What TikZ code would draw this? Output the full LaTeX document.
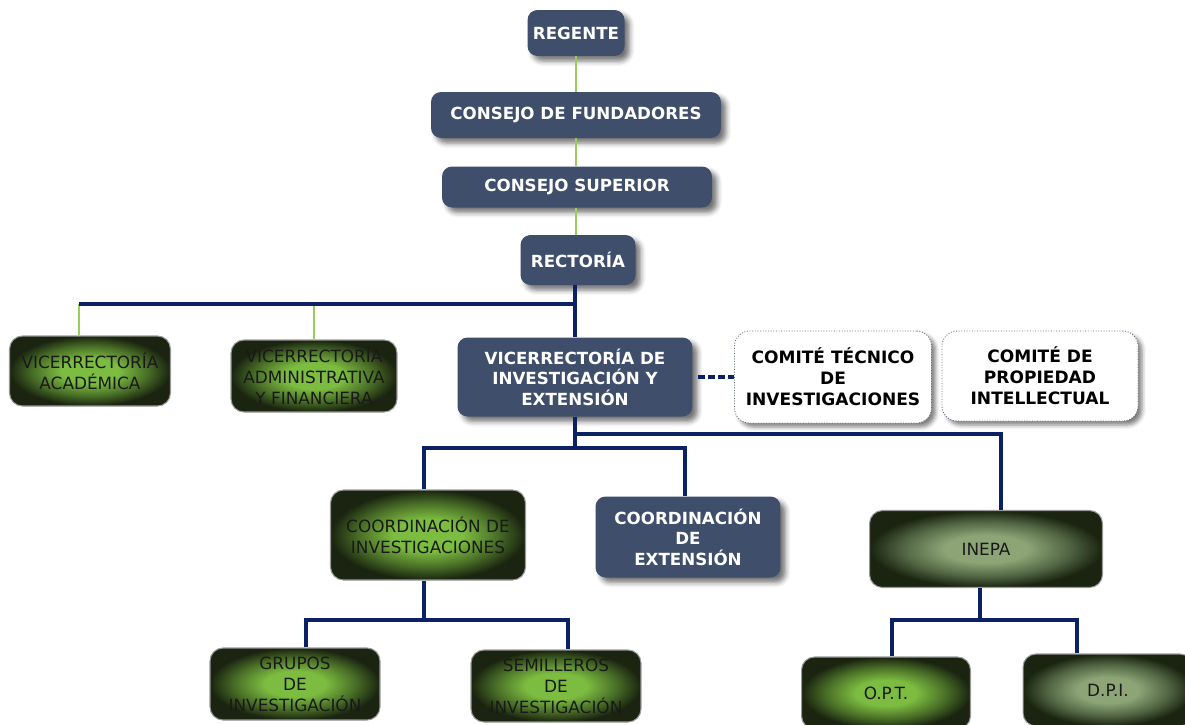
\documentclass[tikz,border=0pt]{standalone}
\usepackage{fontspec}
\setmainfont{DejaVu Sans}
\usetikzlibrary{shadows.blur}

\definecolor{boxblue}{RGB}{63,79,107}
\definecolor{linknavy}{RGB}{10,33,99}
\definecolor{linkgreen}{RGB}{154,205,90}
\definecolor{glowgreen}{RGB}{124,188,64}
\definecolor{midgreen}{RGB}{72,108,38}
\definecolor{glowgray}{RGB}{140,164,118}
\definecolor{midgray}{RGB}{80,100,66}
\definecolor{darkgreen}{RGB}{26,36,16}
\definecolor{dotgray}{RGB}{95,105,125}
\pgfdeclareradialshading{greenglow}{\pgfpoint{0bp}{0bp}}{color(0bp)=(glowgreen); color(9bp)=(glowgreen); color(18bp)=(midgreen); color(25bp)=(darkgreen); color(50bp)=(darkgreen)}
\pgfdeclareradialshading{grayglow}{\pgfpoint{0bp}{0bp}}{color(0bp)=(glowgray); color(9bp)=(glowgray); color(18bp)=(midgray); color(25bp)=(darkgreen); color(50bp)=(darkgreen)}

\tikzset{
  bluebox/.style={fill=boxblue, text=white, rounded corners=0.2cm, align=center,
    font=\fontsize{9.5}{11.7}\selectfont\bfseries, inner sep=2pt,
    blur shadow={shadow xshift=0.1cm, shadow yshift=-0.1cm, shadow blur radius=0.1cm, shadow opacity=55}},
  greenbox/.style={shade, shading=greenglow, draw=gray!80, line width=0.6pt, rounded corners=0.26cm,
    text=black!90, align=center, font=\fontsize{9.6}{12}\selectfont, inner sep=2pt},
  graybox/.style={greenbox, shading=grayglow},
  comitebox/.style={fill=white, draw=dotgray, densely dotted, line width=0.5pt, rounded corners=0.3cm,
    align=center, font=\fontsize{9.7}{12}\selectfont\bfseries, inner sep=2pt,
    blur shadow={shadow xshift=0.08cm, shadow yshift=-0.08cm, shadow blur radius=0.08cm, shadow opacity=50}},
  greenlink/.style={draw=linkgreen, line width=0.04cm},
  navylink/.style={draw=linknavy, line width=0.09cm, line join=miter},
}

\begin{document}
\begin{tikzpicture}[x=0.02cm, y=-0.02cm]
	\useasboundingbox (0,0) rectangle (1185,724);
	\clip (0,0) rectangle (1185,724);

	\node[bluebox, minimum width=1.94cm, minimum height=0.92cm] (regente) at (576,33) {REGENTE};
	\node[bluebox, minimum width=5.8cm, minimum height=0.92cm] (fundadores) at (576,115) {CONSEJO DE FUNDADORES};
	\node[bluebox, minimum width=5.4cm, minimum height=0.82cm] (superior) at (577,187) {CONSEJO SUPERIOR};
	\node[bluebox, minimum width=2.3cm, minimum height=1cm] (rectoria) at (578,260) {RECTORÍA};

	\node[greenbox, minimum width=3.22cm, minimum height=1.4cm] (viceacad) at (90,371) {VICERRECTORÍA\\ACADÉMICA};
	\node[greenbox, minimum width=3.32cm, minimum height=1.44cm] (viceadmin) at (314,376) {VICERRECTORÍA\\ADMINISTRATIVA\\Y FINANCIERA};
	\node[bluebox, minimum width=4.7cm, minimum height=1.58cm] (viceinv) at (575,377) {VICERRECTORÍA DE\\INVESTIGACIÓN Y\\EXTENSIÓN};
	\node[comitebox, minimum width=3.94cm, minimum height=1.84cm] (comitec) at (833,377) {COMITÉ TÉCNICO\\DE\\INVESTIGACIONES};
	\node[comitebox, minimum width=3.92cm, minimum height=1.8cm] (comiprop) at (1040,376) {COMITÉ DE\\PROPIEDAD\\INTELLECTUAL};

	\node[greenbox, minimum width=3.9cm, minimum height=1.8cm] (coordinv) at (428,535) {COORDINACIÓN DE\\INVESTIGACIONES};
	\node[bluebox, minimum width=3.7cm, minimum height=1.62cm] (coordext) at (688,537) {COORDINACIÓN\\DE\\EXTENSIÓN};
	\node[graybox, minimum width=4.66cm, minimum height=1.54cm] (inepa) at (986,549) {INEPA};

	\node[greenbox, minimum width=3.4cm, minimum height=1.44cm] (grupos) at (295,684) {GRUPOS\\DE\\INVESTIGACIÓN};
	\node[greenbox, minimum width=3.4cm, minimum height=1.44cm] (semilleros) at (556,686) {SEMILLEROS\\DE\\INVESTIGACIÓN};
	\node[greenbox, minimum width=3.38cm, minimum height=1.44cm] (opt) at (886,693) {O.P.T.};
	\node[graybox, minimum width=3.4cm, minimum height=1.44cm] (dpi) at (1108,690) {D.P.I.};

	\coordinate (rbar) at (575,304);
	\coordinate (acadbar) at (79,304);
	\coordinate (vinvA) at (575,434);
	\coordinate (vinvB) at (575,448);
	\coordinate (cinvB) at (424,620);
	\coordinate (inepaB) at (980,620);

	\draw[greenlink] (regente.south) -- (fundadores.north);
	\draw[greenlink] (fundadores.south) -- (fundadores.south |- superior.north);
	\draw[greenlink] (superior.south -| fundadores.south) -- (fundadores.south |- rectoria.north);
	\draw[greenlink] (viceacad.north -| acadbar) -- (acadbar);
	\draw[greenlink] (viceadmin.north) -- (viceadmin.north |- rbar);

	\draw[navylink] (rectoria.south -| rbar) -- (viceinv.north -| rbar);
	\draw[navylink] (acadbar) -- (rbar);
	\draw[navylink, dash pattern=on 0.14cm off 0.06cm] ([xshift=0.1cm]viceinv.east) -- (comitec.west);

	\draw[navylink] (viceinv.south -| vinvB) -- (vinvB);
	\draw[navylink] (vinvA) -| ([xshift=0.3cm]inepa.north);
	\draw[navylink] ([xshift=-0.08cm]coordinv.north) |- (vinvB) -| ([xshift=-0.06cm]coordext.north);

	\draw[navylink] (coordinv.south -| cinvB) -- (cinvB);
	\draw[navylink] ([xshift=0.22cm]grupos.north) |- (cinvB) -| ([xshift=0.24cm]semilleros.north);

	\draw[navylink] (inepa.south -| inepaB) -- (inepaB);
	\draw[navylink] ([xshift=0.12cm]opt.north) |- (inepaB) -| ([xshift=-0.62cm]dpi.north);
\end{tikzpicture}
\end{document}
